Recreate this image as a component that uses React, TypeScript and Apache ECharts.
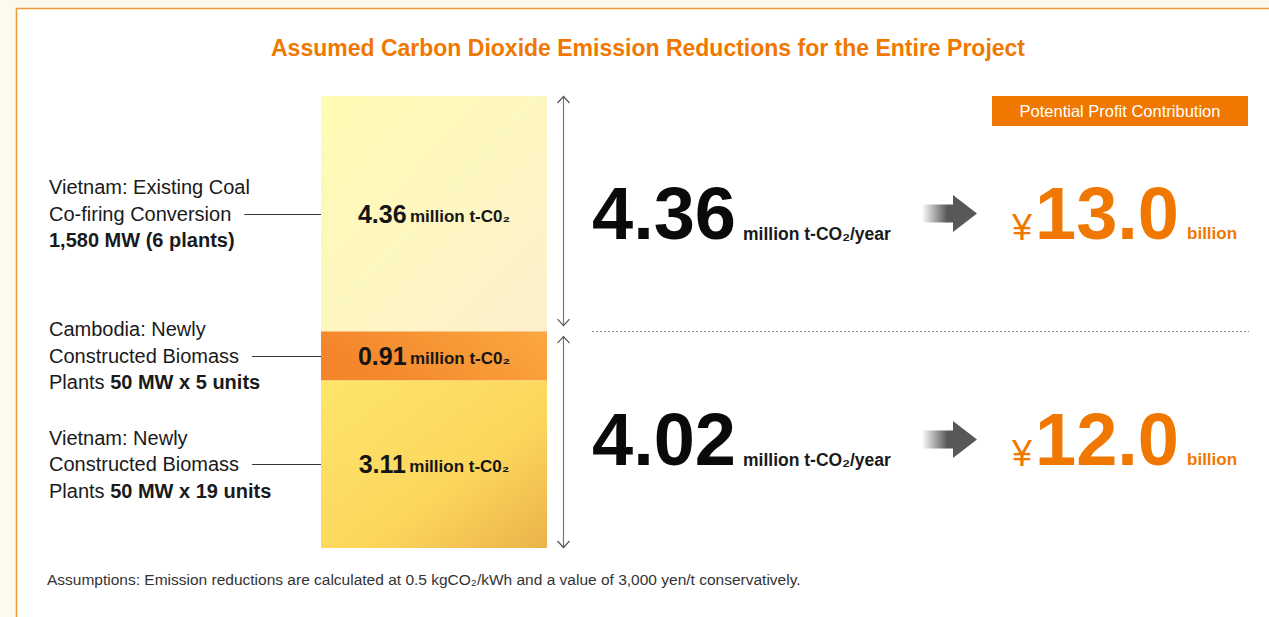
import React, { useEffect, useRef } from 'react';
import * as echarts from 'echarts';

const FONT = '"Liberation Sans", Arial, Helvetica, sans-serif';

// Stacked segments, bottom to top
const segmentValues = [3.11, 0.91, 4.36];
const segmentUnit = 'million t-C0₂';
const segmentLabelLines = [
  ['Vietnam: Newly', 'Constructed Biomass', 'Plants {b|50 MW x 19 units}'],
  ['Cambodia: Newly', 'Constructed Biomass', 'Plants {b|50 MW x 5 units}'],
  ['Vietnam: Existing Coal', 'Co-firing Conversion', '{b|1,580 MW (6 plants)}'],
];

// Right-hand groups: upper = coal co-firing, lower = both biomass projects
const groupSegments = [[2], [0, 1]];
const groupTotals = [4.36, 4.02];
const profitValues = [13.0, 12.0];
const totalUnit = 'million t-CO₂/year';
const profitUnit = 'billion';

const titleText = 'Assumed Carbon Dioxide Emission Reductions for the Entire Project';
const badgeText = 'Potential Profit Contribution';
const footnoteText =
  'Assumptions: Emission reductions are calculated at 0.5 kgCO₂/kWh and a value of 3,000 yen/t conservatively.';

const ORANGE = '#f07800';

const segmentColors = [
  new echarts.graphic.LinearGradient(0, 0, 1, 1, [
    { offset: 0, color: '#fee56c' },
    { offset: 0.6, color: '#fcd65c' },
    { offset: 1, color: '#eab24a' },
  ]),
  new echarts.graphic.LinearGradient(0, 0.3, 1, 0, [
    { offset: 0, color: '#f3852a' },
    { offset: 1, color: '#fca842' },
  ]),
  new echarts.graphic.LinearGradient(0, 0, 1, 1, [
    { offset: 0, color: '#fffbb2' },
    { offset: 0.6, color: '#fdf6c4' },
    { offset: 1, color: '#fcefcc' },
  ]),
];

function measure(text: string, font: string): number {
  const ctx = document.createElement('canvas').getContext('2d')!;
  ctx.font = font;
  return ctx.measureText(text).width;
}

export default function App() {
  const ref = useRef<HTMLDivElement>(null);

  useEffect(() => {
    if (!ref.current) return;
    const chart = echarts.init(ref.current, undefined, { renderer: 'svg' });
    const total = segmentValues.reduce((a, b) => a + b, 0);

    chart.setOption({
      animation: false,
      backgroundColor: '#fdf9ef',
      grid: { left: 321, top: 96, width: 226, height: 452 },
      xAxis: { type: 'category', data: ['project'], show: false },
      yAxis: { type: 'value', min: 0, max: total, show: false },
      series: segmentValues.map((v, i) => ({
        type: 'bar',
        stack: 'total',
        barWidth: '100%',
        data: [v],
        itemStyle: { color: segmentColors[i] },
        z: 5,
        label: {
          show: true,
          position: 'inside',
          formatter: `{v|${v.toFixed(2)}} {u|${segmentUnit}}`,
          rich: {
            v: { fontFamily: FONT, fontSize: 25, fontWeight: 'bold', color: '#151515' },
            u: { fontFamily: FONT, fontSize: 17, fontWeight: 'bold', color: '#151515', padding: [5, 0, 0, 0] },
          },
        },
      })),
    });

    const yPix = (v: number) => chart.convertToPixel({ yAxisIndex: 0 }, v) as number;
    const cum = [0];
    segmentValues.forEach((v) => cum.push(cum[cum.length - 1] + v));
    const segCenter = (i: number) => (yPix(cum[i]) + yPix(cum[i + 1])) / 2;

    const graphics: any[] = [];

    // White panel with orange frame
    graphics.push({
      type: 'rect',
      shape: { x: 16.5, y: 8.5, width: 1400, height: 800 },
      style: { fill: '#ffffff', stroke: '#f0973a', lineWidth: 1.5 },
      z: -10,
      silent: true,
    });

    // Title
    graphics.push({
      type: 'text',
      x: 648,
      y: 48,
      style: {
        text: titleText,
        fontFamily: FONT,
        fontSize: 23,
        fontWeight: 'bold',
        fill: ORANGE,
        align: 'center',
        verticalAlign: 'middle',
      },
    });

    // Left-hand labels with leader lines
    const labelFont = `20px ${FONT}`;
    segmentLabelLines.forEach((lines, i) => {
      const c = segCenter(i);
      lines.forEach((ln, k) => {
        graphics.push({
          type: 'text',
          x: 49,
          y: c + (k - 1) * 26.5,
          style: {
            text: ln,
            fontFamily: FONT,
            fontSize: 20,
            fill: '#1a1a1a',
            verticalAlign: 'middle',
            rich: {
              b: { fontFamily: FONT, fontSize: 20, fontWeight: 'bold', fill: '#1a1a1a' },
            },
          },
        });
      });
      const startX = 49 + measure(lines[1], labelFont) + 13;
      graphics.push({
        type: 'line',
        shape: { x1: startX, y1: Math.round(c) + 0.5, x2: 321, y2: Math.round(c) + 0.5 },
        style: { stroke: '#333', lineWidth: 1 },
      });
    });

    // Vertical range arrows and right-hand totals
    const arrowX = 563.5;
    const numFont = `bold 74px ${FONT}`;
    groupSegments.forEach((segs, g) => {
      const lo = cum[segs[0]];
      const hi = cum[segs[segs.length - 1] + 1];
      let yTop = yPix(hi);
      let yBot = yPix(lo);
      if (hi < total) yTop += 5;
      if (lo > 0) yBot -= 5;
      graphics.push({
        type: 'line',
        shape: { x1: arrowX, y1: yTop, x2: arrowX, y2: yBot },
        style: { stroke: '#777', lineWidth: 1.2 },
      });
      graphics.push({
        type: 'polyline',
        shape: { points: [[arrowX - 6, yTop + 7], [arrowX, yTop + 0.5], [arrowX + 6, yTop + 7]] },
        style: { stroke: '#555', lineWidth: 1.2, fill: 'none' },
      });
      graphics.push({
        type: 'polyline',
        shape: { points: [[arrowX - 6, yBot - 7], [arrowX, yBot - 0.5], [arrowX + 6, yBot - 7]] },
        style: { stroke: '#555', lineWidth: 1.2, fill: 'none' },
      });

      const c = (yPix(hi) + yPix(lo)) / 2;
      const numText = groupTotals[g].toFixed(2);
      const numW = measure(numText, numFont);
      graphics.push({
        type: 'text',
        x: 592,
        y: c,
        style: { text: numText, fontFamily: FONT, fontSize: 74, fontWeight: 'bold', fill: '#0a0a0a', verticalAlign: 'middle' },
      });
      graphics.push({
        type: 'text',
        x: 592 + numW + 7,
        y: c + 20,
        style: { text: totalUnit, fontFamily: FONT, fontSize: 17.5, fontWeight: 'bold', fill: '#1a1a1a', verticalAlign: 'middle' },
      });

      // Grey block arrow
      graphics.push({
        type: 'polygon',
        shape: {
          points: [
            [923, c - 9], [953, c - 9], [953, c - 18.5], [977, c],
            [953, c + 18.5], [953, c + 9], [923, c + 9],
          ],
        },
        style: {
          fill: new echarts.graphic.LinearGradient(0, 0, 1, 0, [
            { offset: 0, color: 'rgba(85,85,85,0.05)' },
            { offset: 0.45, color: '#58585a' },
            { offset: 1, color: '#58585a' },
          ]),
        },
      });

      // Profit value
      const profText = profitValues[g].toFixed(1);
      const profW = measure(profText, numFont);
      graphics.push({
        type: 'text',
        x: 1012,
        y: c + 14,
        style: { text: '¥', fontFamily: FONT, fontSize: 36, fill: ORANGE, verticalAlign: 'middle' },
      });
      graphics.push({
        type: 'text',
        x: 1035,
        y: c,
        style: { text: profText, fontFamily: FONT, fontSize: 74, fontWeight: 'bold', fill: ORANGE, verticalAlign: 'middle' },
      });
      graphics.push({
        type: 'text',
        x: 1035 + profW + 8,
        y: c + 20,
        style: { text: profitUnit, fontFamily: FONT, fontSize: 17, fontWeight: 'bold', fill: ORANGE, verticalAlign: 'middle' },
      });
    });

    // Dotted divider at the group boundary
    const divY = Math.round(yPix(cum[2])) + 0.5;
    graphics.push({
      type: 'line',
      shape: { x1: 592, y1: divY, x2: 1249, y2: divY },
      style: { stroke: '#8a8a8a', lineWidth: 1, lineDash: [2, 2] },
    });

    // Badge
    graphics.push({
      type: 'rect',
      shape: { x: 992, y: 96, width: 256, height: 30 },
      style: { fill: ORANGE },
    });
    graphics.push({
      type: 'text',
      x: 1120,
      y: 111,
      style: { text: badgeText, fontFamily: FONT, fontSize: 16.5, fill: '#ffffff', align: 'center', verticalAlign: 'middle' },
    });

    // Footnote
    graphics.push({
      type: 'text',
      x: 47,
      y: 579,
      style: { text: footnoteText, fontFamily: FONT, fontSize: 15.5, fill: '#333', verticalAlign: 'middle' },
    });

    chart.setOption({ graphic: graphics });

    return () => chart.dispose();
  }, []);

  return (
    <div
      ref={ref}
      style={{ position: 'fixed', left: 0, top: 0, width: 1269, height: 617 }}
    />
  );
}
